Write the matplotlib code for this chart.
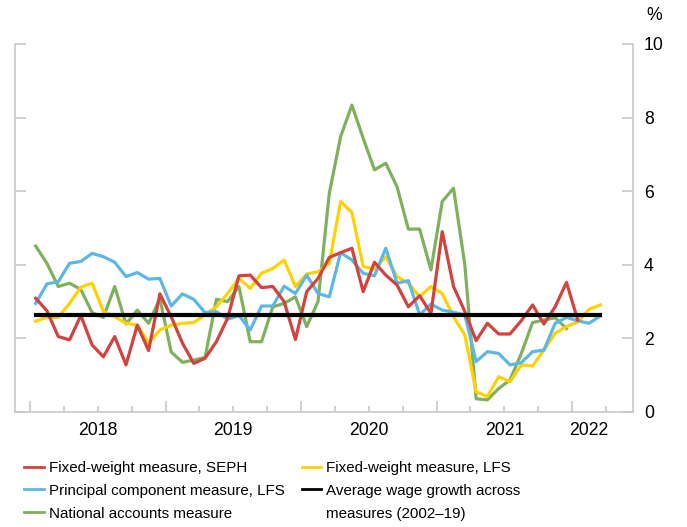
import numpy as np
import matplotlib
matplotlib.use("Agg")
import matplotlib.pyplot as plt
from matplotlib.lines import Line2D

plt.rcParams["font.family"] = ["Liberation Sans", "DejaVu Sans"]

# Monatswerte ab Jan 2018, in % (Jahresrate)
seph = [3.09, 2.75, 2.05, 1.96, 2.62, 1.82, 1.50, 2.05, 1.28, 2.36, 1.67, 3.21,
        2.59, 1.87, 1.32, 1.46, 1.91, 2.55, 3.70, 3.72, 3.38, 3.41, 3.00, 1.97,
        3.27, 3.63, 4.20, 4.33, 4.45, 3.27, 4.07, 3.72, 3.45, 2.86, 3.16, 2.68,
        4.90, 3.41, 2.73, 1.94, 2.41, 2.12, 2.12, 2.48, 2.91, 2.39, 2.86, 3.52,
        2.50]
fw_lfs = [2.47, 2.57, 2.57, 2.95, 3.39, 3.50, 2.73, 2.59, 2.41, 2.36, 1.87, 2.23,
          2.36, 2.41, 2.43, 2.64, 2.86, 3.22, 3.63, 3.36, 3.77, 3.90, 4.13, 3.41,
          3.75, 3.81, 4.04, 5.72, 5.42, 3.95, 3.89, 4.22, 3.68, 3.50, 3.13, 3.41,
          3.22, 2.59, 2.09, 0.55, 0.42, 0.96, 0.82, 1.28, 1.25, 1.68, 2.14, 2.32,
          2.45, 2.79, 2.91]
pc_lfs = [2.95, 3.48, 3.54, 4.04, 4.09, 4.31, 4.22, 4.07, 3.68, 3.79, 3.61, 3.63,
          2.88, 3.21, 3.06, 2.70, 2.73, 2.52, 2.62, 2.23, 2.88, 2.88, 3.42, 3.22,
          3.72, 3.22, 3.13, 4.33, 4.13, 3.77, 3.70, 4.45, 3.50, 3.57, 2.64, 2.93,
          2.77, 2.71, 2.64, 1.37, 1.64, 1.59, 1.28, 1.34, 1.64, 1.68, 2.41, 2.57,
          2.48, 2.41, 2.61]
nat_acc = [4.51, 4.04, 3.41, 3.50, 3.33, 2.70, 2.57, 3.41, 2.39, 2.77, 2.41, 3.08,
           1.63, 1.35, 1.41, 1.48, 3.06, 3.00, 3.41, 1.91, 1.91, 2.86, 2.95, 3.13,
           2.32, 3.00, 5.94, 7.48, 8.34, 7.44, 6.58, 6.76, 6.12, 4.97, 4.97, 3.86,
           5.72, 6.08, 4.00, 0.36, 0.33, 0.64, 0.87, 1.59, 2.43, 2.50, 2.56, 2.27]
avg_2002_19 = 2.63
n_months_avg = 51

years = ["2018", "2019", "2020", "2021", "2022"]

# Farben
RED = "#d2423f"
YELLOW = "#ffd100"
BLUE = "#5db7e3"
GREEN = "#7fb15c"
GRID = "#c8c8c8"


def x_of(series):
    # Monatsmitte, 0 = 1. Jan 2018
    return np.arange(len(series)) + 0.5


fig = plt.figure(figsize=(6.87, 5.27), dpi=100)
ax = fig.add_axes([15 / 687, 1 - 412 / 527, (633 - 15) / 687, (412 - 44) / 527])

lw = 2.3
x_avg = np.array([0.5, n_months_avg - 0.5])
ax.plot(x_of(nat_acc), nat_acc, color=GREEN, lw=lw, zorder=2)
ax.plot(x_of(fw_lfs), fw_lfs, color=YELLOW, lw=lw, zorder=3)
ax.plot(x_of(pc_lfs), pc_lfs, color=BLUE, lw=lw, zorder=4)
ax.plot(x_of(seph), seph, color=RED, lw=lw, zorder=5)
ax.plot(x_avg, [avg_2002_19] * 2, color="black", lw=3.0, zorder=6)

px_per_month = 576 / 51
ax.set_xlim(-15 / px_per_month, 603 / px_per_month)
ax.set_ylim(0, 10)

# Achsen
for side in ["left", "right", "bottom"]:
    ax.spines[side].set_color(GRID)
    ax.spines[side].set_linewidth(1.2)
ax.spines["top"].set_visible(False)

ax.yaxis.tick_right()
ax.set_yticks(np.arange(0, 11, 2))
ax.tick_params(axis="y", which="both", direction="in", length=8, width=1.2,
               color=GRID, left=True, right=True, labelleft=False,
               labelright=True, labelsize=12.7, pad=8)

ax.set_xticks([0, 12, 24, 36, 48])
ax.set_xticks([m for m in range(3, 52, 3) if m % 12 != 0], minor=True)
ax.tick_params(axis="x", which="major", direction="in", length=8, width=1.2,
               color=GRID, labelbottom=False)
ax.tick_params(axis="x", which="minor", direction="in", length=4, width=1.2,
               color=GRID)

year_centers = [6, 18, 30, 42, 49.5]
for xc, lab in zip(year_centers, years):
    ax.text(xc, -0.028, lab, ha="center", va="top", fontsize=12.7,
            transform=ax.get_xaxis_transform())

fig.text(654 / 687, 1 - 15 / 527, "%", ha="center", va="center", fontsize=12.7)

handles = [
    Line2D([], [], color=RED, lw=2),
    Line2D([], [], color=BLUE, lw=2),
    Line2D([], [], color=GREEN, lw=2),
    Line2D([], [], color=YELLOW, lw=2),
    Line2D([], [], color="black", lw=2),
    Line2D([], [], color="none", lw=0),
]
labels = [
    "Fixed-weight measure, SEPH",
    "Principal component measure, LFS",
    "National accounts measure",
    "Fixed-weight measure, LFS",
    "Average wage growth across",
    "measures (2002\u201319)",
]
fig.legend(handles, labels, ncol=2, loc="upper left",
           bbox_to_anchor=(24 / 687, 1 - 461 / 527), frameon=False,
           prop=dict(family="Liberation Sans", size=10.9),
           handlelength=1.3, handletextpad=0.35,
           columnspacing=1.1, labelspacing=0.58, borderpad=0,
           borderaxespad=0)

fig.savefig("out.png", dpi=100)
